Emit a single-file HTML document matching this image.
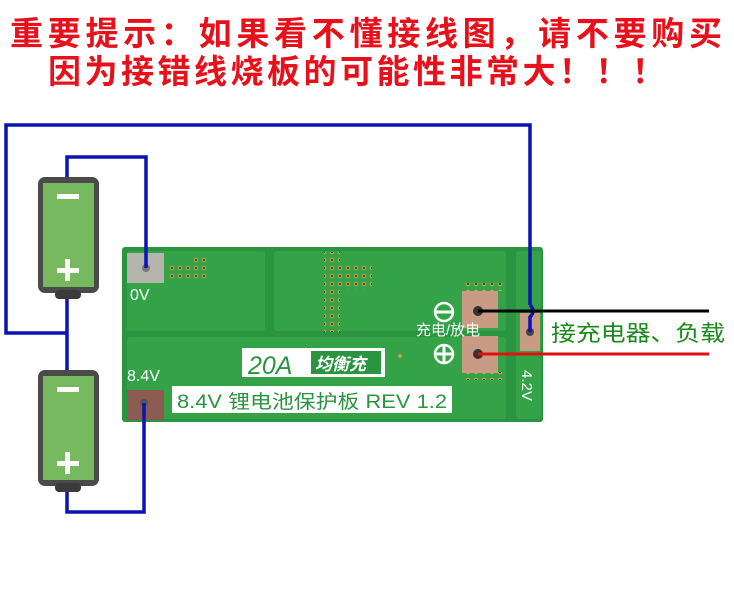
<!DOCTYPE html>
<html><head><meta charset="utf-8"><style>
body{margin:0;background:#fff;width:734px;height:593px;overflow:hidden}
svg{display:block}
</style></head><body>
<svg width="734" height="593" viewBox="0 0 734 593" xmlns="http://www.w3.org/2000/svg">
<defs>
<pattern id="via" width="8" height="8" patternUnits="userSpaceOnUse"><circle cx="4" cy="4" r="2.2" fill="#c9a23a"/><circle cx="4" cy="4" r="1" fill="#222"/></pattern>
</defs>
<g font-family="'Liberation Sans','WenQuanYi Zen Hei','Noto Sans CJK SC',sans-serif" font-weight="bold" fill="#e8101a" font-size="33">
<text x="10" y="45" textLength="712" lengthAdjust="spacing">重要提示：如果看不懂接线图，请不要购买</text>
<text x="48" y="83" textLength="617" lengthAdjust="spacing">因为接错线烧板的可能性非常大！！！</text>
</g>
<!-- board -->
<rect x="122" y="247" width="421" height="175" rx="3" fill="#2a9440"/>
<rect x="127" y="251" width="138" height="80" rx="3" fill="#34a348"/>
<rect x="274" y="251" width="232" height="80" rx="3" fill="#34a348"/>
<rect x="127" y="337" width="379" height="82" rx="3" fill="#34a348"/>
<rect x="516" y="251" width="25" height="168" rx="3" fill="#34a348"/>
<!-- vias -->
<rect x="166" y="263" width="40" height="8" fill="url(#via)"/>
<rect x="166" y="271" width="40" height="8" fill="url(#via)"/>
<rect x="190" y="255" width="16" height="8" fill="url(#via)"/>
<rect x="324" y="252" width="16" height="80" fill="url(#via)"/>
<rect x="340" y="266" width="32" height="24" fill="url(#via)"/>
<rect x="464" y="283" width="40" height="8" fill="url(#via)"/>
<rect x="464" y="372" width="40" height="8" fill="url(#via)"/>
<circle cx="400" cy="356" r="2" fill="#c9a23a"/>
<!-- pads -->
<rect x="127" y="253" width="37" height="30" fill="#b5b5ad"/>
<circle cx="146" cy="268" r="4" fill="#777"/>
<rect x="127" y="390" width="37" height="30" fill="#8c5c52"/>
<circle cx="144" cy="403" r="4" fill="#555"/>
<rect x="462" y="291" width="36" height="37" fill="#c99a84"/>
<circle cx="478" cy="311" r="5" fill="#333"/>
<rect x="462" y="336" width="36" height="37" fill="#c99a84"/>
<circle cx="478" cy="354" r="5" fill="#333"/>
<rect x="520" y="313" width="20" height="38" fill="#c99a84"/>
<circle cx="530" cy="332" r="4" fill="#444"/>
<!-- board text -->
<g fill="#fff" font-family="'Liberation Sans','WenQuanYi Zen Hei',sans-serif">
<text x="130" y="300" font-size="16">0V</text>
<text x="127" y="381" font-size="16">8.4V</text>
<text x="416" y="335" font-size="15">充电/放电</text>
<text x="522" y="370" font-size="15" transform="rotate(90 522 370)">4.2V</text>
<circle cx="444" cy="312" r="9" fill="none" stroke="#fff" stroke-width="2.5"/>
<line x1="435" y1="312" x2="453" y2="312" stroke="#fff" stroke-width="3"/>
<circle cx="444" cy="354" r="9" fill="none" stroke="#fff" stroke-width="2.5"/>
<line x1="435" y1="354" x2="453" y2="354" stroke="#fff" stroke-width="3"/>
<line x1="444" y1="345" x2="444" y2="363" stroke="#fff" stroke-width="3"/>
</g>
<rect x="242" y="348" width="143" height="29" fill="#fff"/>
<rect x="311" y="351" width="70" height="23" fill="#2a9440"/>
<text x="248" y="374" font-size="25" font-style="italic" fill="#2a9440" font-family="'Liberation Sans',sans-serif">20A</text>
<text x="315" y="370" font-size="17" font-weight="bold" font-style="italic" fill="#fff" font-family="'WenQuanYi Zen Hei','Noto Sans CJK SC',sans-serif">均衡充</text>
<rect x="172" y="386" width="280" height="27" fill="#fff"/>
<text x="177" y="408" font-size="19" fill="#2a9440" textLength="270" lengthAdjust="spacingAndGlyphs" font-family="'Liberation Sans','Noto Sans CJK SC',sans-serif">8.4V 锂电池保护板 REV 1.2</text>
<!-- batteries -->
<g>
<rect x="38" y="177" width="61" height="116" rx="7" fill="#4a4a4a"/>
<rect x="43" y="183" width="51" height="104" fill="#76b95e"/>
<rect x="55" y="290" width="26" height="9" rx="4" fill="#3a3a3a"/>
<rect x="57" y="194" width="22" height="5" fill="#fff"/>
<rect x="57" y="268" width="22" height="5" fill="#fff"/>
<rect x="65" y="259" width="5" height="22" fill="#fff"/>
<rect x="38" y="370" width="61" height="116" rx="7" fill="#4a4a4a"/>
<rect x="43" y="376" width="51" height="104" fill="#76b95e"/>
<rect x="55" y="483" width="26" height="9" rx="4" fill="#3a3a3a"/>
<rect x="57" y="387" width="22" height="5" fill="#fff"/>
<rect x="57" y="461" width="22" height="5" fill="#fff"/>
<rect x="65" y="452" width="5" height="22" fill="#fff"/>
</g>
<!-- wires -->
<g fill="none" stroke="#0a14b4" stroke-width="3.5">
<polyline points="67,177 67,157 146,157 146,268"/>
<polyline points="67,299 67,370"/>
<polyline points="67,333 6,333 6,125 530,125 530,305"/>
<path d="M530,305 q6,6 0,12 L530,332"/>
<polyline points="67,492 67,512 144,512 144,403"/>
</g>
<line x1="478" y1="311" x2="709" y2="311" stroke="#000" stroke-width="3"/>
<line x1="478" y1="354" x2="709" y2="354" stroke="#e01010" stroke-width="3"/>
<text x="551" y="341" font-size="22" fill="#1a8a1a" font-family="'WenQuanYi Zen Hei','Noto Sans CJK SC',sans-serif" textLength="174" lengthAdjust="spacingAndGlyphs">接充电器、负载</text>
</svg>
</body></html>
